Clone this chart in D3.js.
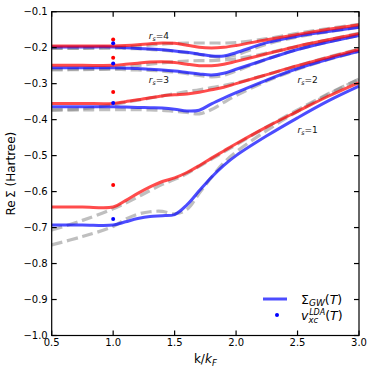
<!DOCTYPE html>
<html><head><meta charset="utf-8">
<script src="https://cdn.jsdelivr.net/npm/d3@7"></script>
<style>body{margin:0;background:#fff}svg{display:block}text{font-family:"DejaVu Sans",sans-serif}</style>
</head><body><svg id="c" width="374" height="372"></svg>
<script>
const kGrid = [0.5, 0.75, 1.0, 1.1, 1.2, 1.3, 1.4, 1.5, 1.6, 1.7, 1.8, 1.9, 2.0, 2.25, 2.5, 2.75, 3.0];

// Sigma_GW(T) curves, red (one temperature) and blue (another)
const red_rs4  = [-0.195,-0.195,-0.195,-0.194,-0.192,-0.189,-0.187,-0.188,-0.193,-0.199,-0.201,-0.199,-0.194,-0.178,-0.163,-0.149,-0.136];
const blue_rs4 = [-0.198,-0.198,-0.198,-0.200,-0.202,-0.204,-0.206,-0.209,-0.213,-0.218,-0.223,-0.223,-0.214,-0.186,-0.168,-0.155,-0.143];
const red_rs3  = [-0.249,-0.249,-0.249,-0.246,-0.243,-0.240,-0.239,-0.241,-0.246,-0.250,-0.250,-0.246,-0.238,-0.217,-0.196,-0.178,-0.161];
const blue_rs3 = [-0.256,-0.256,-0.256,-0.257,-0.258,-0.260,-0.262,-0.265,-0.269,-0.273,-0.276,-0.271,-0.260,-0.232,-0.205,-0.184,-0.166];
const red_rs2  = [-0.355,-0.355,-0.355,-0.350,-0.345,-0.339,-0.334,-0.331,-0.329,-0.324,-0.317,-0.310,-0.300,-0.275,-0.250,-0.227,-0.205];
const blue_rs2 = [-0.364,-0.364,-0.364,-0.365,-0.366,-0.367,-0.368,-0.371,-0.376,-0.374,-0.356,-0.340,-0.325,-0.290,-0.258,-0.232,-0.210];
const red_rs1  = [-0.643,-0.643,-0.643,-0.625,-0.605,-0.587,-0.572,-0.562,-0.547,-0.528,-0.507,-0.487,-0.467,-0.420,-0.377,-0.335,-0.297];
const blue_rs1 = [-0.693,-0.693,-0.693,-0.684,-0.675,-0.669,-0.667,-0.664,-0.637,-0.598,-0.560,-0.527,-0.500,-0.445,-0.395,-0.348,-0.307];

// grey dashed reference curves
const grayA_rs4 = [-0.201,-0.201,-0.200,-0.198,-0.196,-0.193,-0.190,-0.188,-0.187,-0.187,-0.187,-0.187,-0.186,-0.175,-0.160,-0.147,-0.135];
const grayB_rs4 = [-0.202,-0.202,-0.201,-0.202,-0.203,-0.205,-0.207,-0.210,-0.214,-0.219,-0.224,-0.226,-0.220,-0.190,-0.170,-0.156,-0.143];
const grayA_rs3 = [-0.260,-0.259,-0.258,-0.254,-0.250,-0.246,-0.242,-0.239,-0.237,-0.236,-0.236,-0.234,-0.231,-0.215,-0.196,-0.178,-0.160];
const grayB_rs3 = [-0.262,-0.261,-0.260,-0.261,-0.262,-0.263,-0.265,-0.268,-0.272,-0.277,-0.281,-0.277,-0.265,-0.232,-0.205,-0.184,-0.166];
const grayA_rs2 = [-0.372,-0.370,-0.358,-0.352,-0.346,-0.340,-0.334,-0.328,-0.322,-0.317,-0.311,-0.305,-0.298,-0.275,-0.250,-0.226,-0.204];
const grayB_rs2 = [-0.374,-0.373,-0.372,-0.372,-0.372,-0.373,-0.374,-0.377,-0.380,-0.384,-0.372,-0.352,-0.333,-0.293,-0.260,-0.233,-0.210];
const grayA_rs1 = [-0.707,-0.680,-0.648,-0.632,-0.615,-0.597,-0.580,-0.566,-0.550,-0.530,-0.510,-0.490,-0.470,-0.420,-0.373,-0.328,-0.287];
const grayB_rs1 = [-0.748,-0.725,-0.697,-0.677,-0.663,-0.656,-0.655,-0.662,-0.650,-0.605,-0.560,-0.520,-0.490,-0.430,-0.377,-0.330,-0.288];

// v_xc^LDA(T) at k = kF
const ldaK = 1.0;
const ldaRed  = [-0.177, -0.228, -0.323, -0.582];
const ldaBlue = [-0.188, -0.244, -0.354, -0.676];

const rsLabels = [{t:"4", k:1.29, v:-0.177}, {t:"3", k:1.29, v:-0.299}, {t:"2", k:2.5, v:-0.299}, {t:"1", k:2.5, v:-0.438}];

const xTicks = [0.5, 1.0, 1.5, 2.0, 2.5, 3.0];
const yTicks = [-1.0, -0.9, -0.8, -0.7, -0.6, -0.5, -0.4, -0.3, -0.2, -0.1];

const W = 374, H = 372;
const m = {l: 51.7, r: 15, t: 11.7, b: 36.5};
const svg = d3.select("#c");
const x = d3.scaleLinear().domain([0.5, 3.0]).range([m.l, W - m.r]);
const y = d3.scaleLinear().domain([-1.0, -0.1]).range([H - m.b, m.t]);

const line = d3.line().x(d => x(d[0])).y(d => y(d[1])).curve(d3.curveCatmullRom.alpha(0.5));
const pts = arr => kGrid.map((k, i) => [k, arr[i]]);

const g = svg.append("g");
const grays = [grayA_rs4, grayB_rs4, grayA_rs3, grayB_rs3, grayA_rs2, grayB_rs2, grayA_rs1, grayB_rs1];
grays.forEach(a => g.append("path").attr("d", line(pts(a))).attr("fill", "none")
  .attr("stroke", "#808080").attr("stroke-opacity", 0.5).attr("stroke-width", 3.2).attr("stroke-dasharray", "11,4.8"));
[blue_rs4, blue_rs3, blue_rs2, blue_rs1].forEach(a => g.append("path").attr("d", line(pts(a))).attr("fill", "none")
  .attr("stroke", "#0000ff").attr("stroke-opacity", 0.7).attr("stroke-width", 3));
[red_rs4, red_rs3, red_rs2, red_rs1].forEach(a => g.append("path").attr("d", line(pts(a))).attr("fill", "none")
  .attr("stroke", "#ff0000").attr("stroke-opacity", 0.7).attr("stroke-width", 3));

ldaRed.forEach(v => g.append("circle").attr("cx", x(ldaK)).attr("cy", y(v)).attr("r", 2).attr("fill", "#ff0000"));
ldaBlue.forEach(v => g.append("circle").attr("cx", x(ldaK)).attr("cy", y(v)).attr("r", 2).attr("fill", "#0000ff"));

// rs labels
rsLabels.forEach(l => {
  const t = g.append("text").attr("x", x(l.k)).attr("y", y(l.v)).attr("font-size", 9).attr("fill", "#111");
  t.append("tspan").attr("font-style", "italic").text("r");
  t.append("tspan").attr("font-style", "italic").attr("font-size", 6.3).attr("dy", 2).text("s");
  t.append("tspan").attr("dy", -2).text("=" + l.t);
});

// axes frame
const fmt = v => d3.format(".1f")(v).replace("-", "\u2212");
svg.append("rect").attr("x", m.l).attr("y", m.t).attr("width", W - m.l - m.r).attr("height", H - m.t - m.b)
  .attr("fill", "none").attr("stroke", "#000").attr("stroke-width", 1.2);
const ax = svg.append("g");
xTicks.forEach(t => {
  ax.append("line").attr("x1", x(t)).attr("x2", x(t)).attr("y1", H - m.b).attr("y2", H - m.b - 5).attr("stroke", "#000").attr("stroke-width", 1.2);
  ax.append("line").attr("x1", x(t)).attr("x2", x(t)).attr("y1", m.t).attr("y2", m.t + 5).attr("stroke", "#000").attr("stroke-width", 1.2);
  ax.append("text").attr("x", x(t)).attr("y", H - m.b + 10.5).attr("text-anchor", "middle").attr("font-size", 10).text(fmt(t));
});
yTicks.forEach(t => {
  ax.append("line").attr("x1", m.l).attr("x2", m.l + 5).attr("y1", y(t)).attr("y2", y(t)).attr("stroke", "#000").attr("stroke-width", 1.2);
  ax.append("line").attr("x1", W - m.r).attr("x2", W - m.r - 5).attr("y1", y(t)).attr("y2", y(t)).attr("stroke", "#000").attr("stroke-width", 1.2);
  ax.append("text").attr("x", m.l - 4).attr("y", y(t) + 3.6).attr("text-anchor", "end").attr("font-size", 10).text(fmt(t));
});

// axis labels
const xl = svg.append("text").attr("x", (m.l + W - m.r) / 2).attr("y", H - 9).attr("text-anchor", "middle").attr("font-size", 12);
xl.append("tspan").text("k/");
xl.append("tspan").attr("font-style", "italic").text("k");
xl.append("tspan").attr("font-style", "italic").attr("font-size", 8.5).attr("dy", 2.5).text("F");
svg.append("text").attr("transform", `translate(15,${(m.t + H - m.b) / 2}) rotate(-90)`).attr("text-anchor", "middle")
  .attr("font-size", 12).text("Re\u2009Σ (Hartree)");

// legend
const lg = svg.append("g");
lg.append("line").attr("x1", 263).attr("x2", 287).attr("y1", 299).attr("y2", 299).attr("stroke", "#0000ff").attr("stroke-opacity", 0.7).attr("stroke-width", 3);
lg.append("circle").attr("cx", 277).attr("cy", 315).attr("r", 2).attr("fill", "#0000ff");
const t1 = lg.append("text").attr("x", 301).attr("y", 303.5).attr("font-size", 12.5);
t1.append("tspan").text("Σ");
t1.append("tspan").attr("font-style", "italic").attr("font-size", 9).attr("dy", 2.5).text("GW");
t1.append("tspan").attr("dy", -2.5).text("(");
t1.append("tspan").attr("font-style", "italic").text("T");
t1.append("tspan").text(")");
const t2 = lg.append("text").attr("x", 301).attr("y", 320).attr("font-size", 12.5);
t2.append("tspan").attr("font-style", "italic").text("v");
t2.append("tspan").attr("font-style", "italic").attr("font-size", 8.5).attr("dy", 3).text("xc");
t2.append("tspan").attr("font-style", "italic").attr("font-size", 8).attr("dx", -9).attr("dy", -8.5).text("LDA");
t2.append("tspan").attr("dy", 5.5).text("(");
t2.append("tspan").attr("font-style", "italic").text("T");
t2.append("tspan").text(")");
</script></body></html>
